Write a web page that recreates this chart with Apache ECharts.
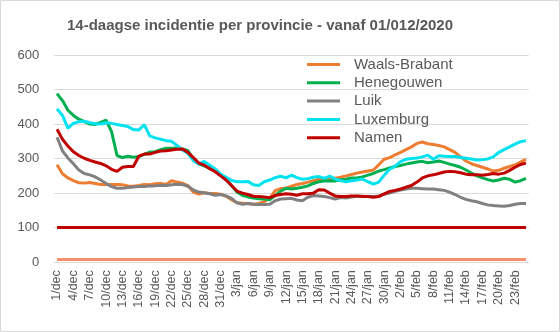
<!DOCTYPE html>
<html><head><meta charset="utf-8">
<script src="https://cdn.jsdelivr.net/npm/echarts@6/dist/echarts.min.js"></script>
<style>html,body{margin:0;padding:0;background:#fff}#c{width:560px;height:332px}</style>
</head><body><div id="c"></div><script>
const categories = [
'1/dec','2/dec','3/dec','4/dec','5/dec','6/dec','7/dec','8/dec','9/dec','10/dec','11/dec','12/dec','13/dec','14/dec','15/dec','16/dec','17/dec','18/dec','19/dec','20/dec','21/dec','22/dec','23/dec','24/dec','25/dec','26/dec','27/dec','28/dec','29/dec','30/dec','31/dec',
'1/jan','2/jan','3/jan','4/jan','5/jan','6/jan','7/jan','8/jan','9/jan','10/jan','11/jan','12/jan','13/jan','14/jan','15/jan','16/jan','17/jan','18/jan','19/jan','20/jan','21/jan','22/jan','23/jan','24/jan','25/jan','26/jan','27/jan','28/jan','29/jan','30/jan','31/jan',
'1/feb','2/feb','3/feb','4/feb','5/feb','6/feb','7/feb','8/feb','9/feb','10/feb','11/feb','12/feb','13/feb','14/feb','15/feb','16/feb','17/feb','18/feb','19/feb','20/feb','21/feb','22/feb','23/feb','24/feb','25/feb'];

const waalsBrabant = [282,256,244,236,230,229,231,228,225,225,225,225,224,221,220,
222,225,224,227,228,225,236,232,229,222,203,197,201,199,
199,197,191,181,172,171,170,168,170,175,185,207,213,215,220,
225,228,232,236,240,242,244,243,246,250,254,258,261,264,
267,282,298,303,311,318,326,334,344,348,343,341,338,334,326,
318,305,293,285,280,275,270,264,266,272,277,282,290,298];

const henegouwen = [488,468,440,425,414,407,400,399,405,411,378,309,303,307,304,
306,312,319,320,326,330,330,331,328,323,298,285,279,272,
266,252,240,222,203,194,189,186,184,183,181,193,206,214,212,
214,217,221,228,233,235,236,235,239,240,244,244,247,252,
257,264,268,273,277,280,284,287,290,292,288,290,293,289,284,
280,275,267,258,250,244,239,235,238,243,240,232,236,243];

const luik = [362,322,302,285,267,257,253,247,238,228,219,214,214,216,218,
219,219,221,221,223,222,224,226,225,220,209,203,201,198,
194,196,192,185,172,168,170,168,167,167,168,178,183,184,185,
180,178,188,193,192,190,187,183,187,186,189,191,191,190,
190,192,197,200,205,209,212,214,214,213,212,212,210,208,203,
196,188,182,178,175,170,166,164,163,162,164,168,170,170];

const luxemburg = [444,425,388,402,407,408,404,401,400,404,402,399,396,393,384,
383,398,366,360,356,352,350,338,325,315,294,284,292,281,
270,255,246,237,233,233,234,224,222,233,238,245,249,244,252,
245,240,242,246,248,243,249,241,236,233,236,238,241,233,
226,232,252,269,278,291,298,300,302,305,310,298,308,307,306,
306,303,301,299,296,297,299,305,318,326,334,342,349,352];

const namen = [385,356,336,320,309,301,295,290,286,279,269,263,275,277,277,
307,313,313,318,322,323,325,327,328,318,303,287,281,271,
262,250,238,222,206,200,196,191,190,189,187,193,196,198,197,
194,198,198,200,210,209,200,192,190,190,192,192,190,190,
188,190,198,205,208,212,217,222,232,244,250,253,257,261,263,
262,259,255,253,253,252,254,257,255,258,266,275,283,287];

const threshold100 = 100;
const baseLine = 8;
const yTicks = [0,100,200,300,400,500,600];

const seriesNames = ['Waals-Brabant','Henegouwen','Luik','Luxemburg','Namen'];
const seriesData = [waalsBrabant, henegouwen, luik, luxemburg, namen];
const seriesColors = ['#ED7D31','#00B050','#808080','#00E2F0','#C00000'];

const chart = echarts.init(document.getElementById('c'), null, {renderer:'canvas'});
const txt = '#595959';
const lines = seriesNames.map((n,i)=>({
  name:n, type:'line', data:seriesData[i], symbol:'none', showSymbol:false,
  lineStyle:{width:3,color:seriesColors[i]}, itemStyle:{color:seriesColors[i]},
  z:3+i, animation:false
}));
lines.push({
  name:'_ref', type:'line', data:[], symbol:'none', animation:false,
  markLine:{silent:true, symbol:'none', label:{show:false}, animation:false,
    data:[
      [{coord:[categories[0],threshold100], lineStyle:{color:'#C00000',width:3,type:'solid'}},{coord:[categories[categories.length-1],threshold100]}],
      [{coord:[categories[0],baseLine], lineStyle:{color:'#F4916C',width:3,type:'solid'}},{coord:[categories[categories.length-1],baseLine]}]
    ]}
});
chart.setOption({
  animation:false,
  backgroundColor:'#fff',
  graphic:[{type:'rect', shape:{x:0.5,y:0.5,width:559,height:331}, style:{fill:'none',stroke:'#d9d9d9',lineWidth:1}, silent:true}],
  title:{text:'14-daagse incidentie per provincie - vanaf 01/012/2020', left:62, top:13,
    textStyle:{fontFamily:'Liberation Sans',fontWeight:'bold',fontSize:15,color:txt}},
  grid:{left:54.3, right:31.3, top:55, bottom:69.8},
  legend:{data:seriesNames, orient:'vertical', left:307, top:57, padding:0, itemWidth:33, itemHeight:3, itemGap:3.3,
    icon:'rect',
    textStyle:{fontFamily:'Liberation Sans',fontSize:15,lineHeight:15,color:txt,padding:[0,0,0,9]}},
  xAxis:{type:'category', data:categories, boundaryGap:true,
    axisLine:{lineStyle:{color:'#d9d9d9',width:1}},
    axisTick:{interval:2, length:5, lineStyle:{color:'#d9d9d9'}},
    axisLabel:{interval:2, rotate:90, margin:8, fontFamily:'Liberation Sans', fontSize:12.5, color:txt},
    splitLine:{show:false}},
  yAxis:{type:'value', min:yTicks[0], max:yTicks[yTicks.length-1], interval:yTicks[1]-yTicks[0],
    axisLine:{show:false}, axisTick:{show:false},
    axisLabel:{margin:15, fontFamily:'Liberation Sans', fontSize:13, color:txt},
    splitLine:{lineStyle:{color:'#d9d9d9',width:1}}},
  series:lines
});
</script></body></html>
